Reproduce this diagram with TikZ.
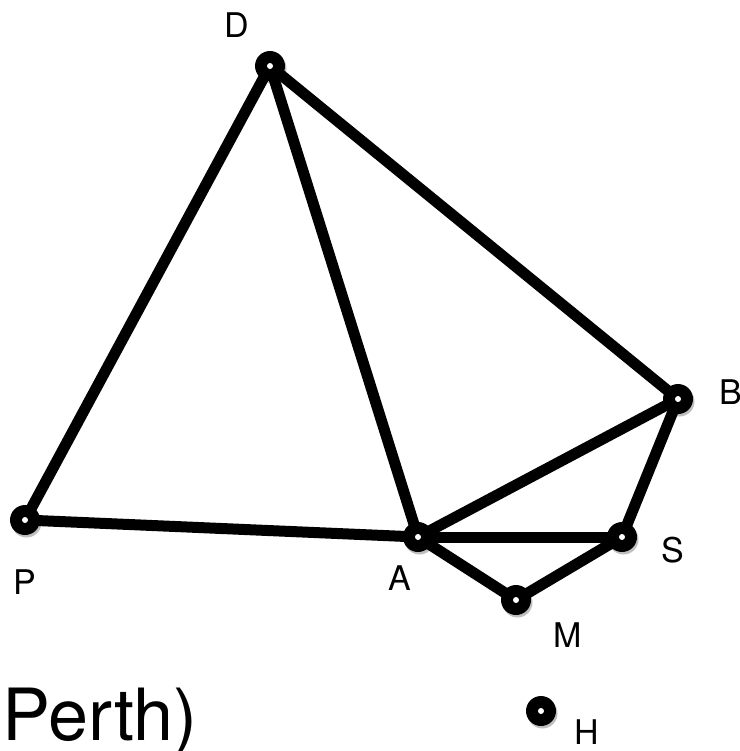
\documentclass[tikz,border=0pt]{standalone}
\usepackage{fontspec}
\setmainfont{TeX Gyre Heros}
\usetikzlibrary{backgrounds,shadows}
\tikzset{
  vtx/.style={circle, fill=black, minimum size=30pt, inner sep=0pt,
    drop shadow={shadow xshift=1.5pt, shadow yshift=-2.5pt, opacity=0.25, fill=black},
    path picture={\fill[white] (path picture bounding box.center) circle (3pt);}},
  edge/.style={line width=11pt, black},
  lbl/.style={font=\fontsize{34}{40}\selectfont, inner sep=0pt, anchor=center}
}
\begin{document}
\begin{tikzpicture}[x=1pt,y=-1pt]
\useasboundingbox (0,0) rectangle (739,751);
\node[vtx] (D) at (270,66) {};
\node[vtx] (P) at (25,520) {};
\node[vtx] (A) at (418,537) {};
\node[vtx] (B) at (678,399) {};
\node[vtx] (S) at (622,537) {};
\node[vtx] (M) at (516,600) {};
\node[vtx] (H) at (541,711) {};
\begin{pgfonlayer}{background}
\draw[edge] (D.center) -- (P.center);
\draw[edge] (D.center) -- (A.center);
\draw[edge] (D.center) -- (B.center);
\draw[edge] (P.center) -- (A.center);
\draw[edge] (A.center) -- (B.center);
\draw[edge] (A.center) -- (S.center);
\draw[edge] (B.center) -- (S.center);
\draw[edge] (A.center) -- (M.center);
\draw[edge] (M.center) -- (S.center);
\end{pgfonlayer}
\node[lbl] (lD) at (237,25) {D};
\node[lbl] (lB) at (731,392) {B};
\node[lbl] (lP) at (25,582) {P};
\node[lbl] (lA) at (400,578) {A};
\node[lbl] (lS) at (673,550) {S};
\node[lbl] (lM) at (568,635) {M};
\node[lbl] (lH) at (587,732) {H};
\node[font=\fontsize{72}{80}\selectfont, inner sep=0pt, anchor=base west] (perth) at (2,740) {Perth)};
\end{tikzpicture}
\end{document}
